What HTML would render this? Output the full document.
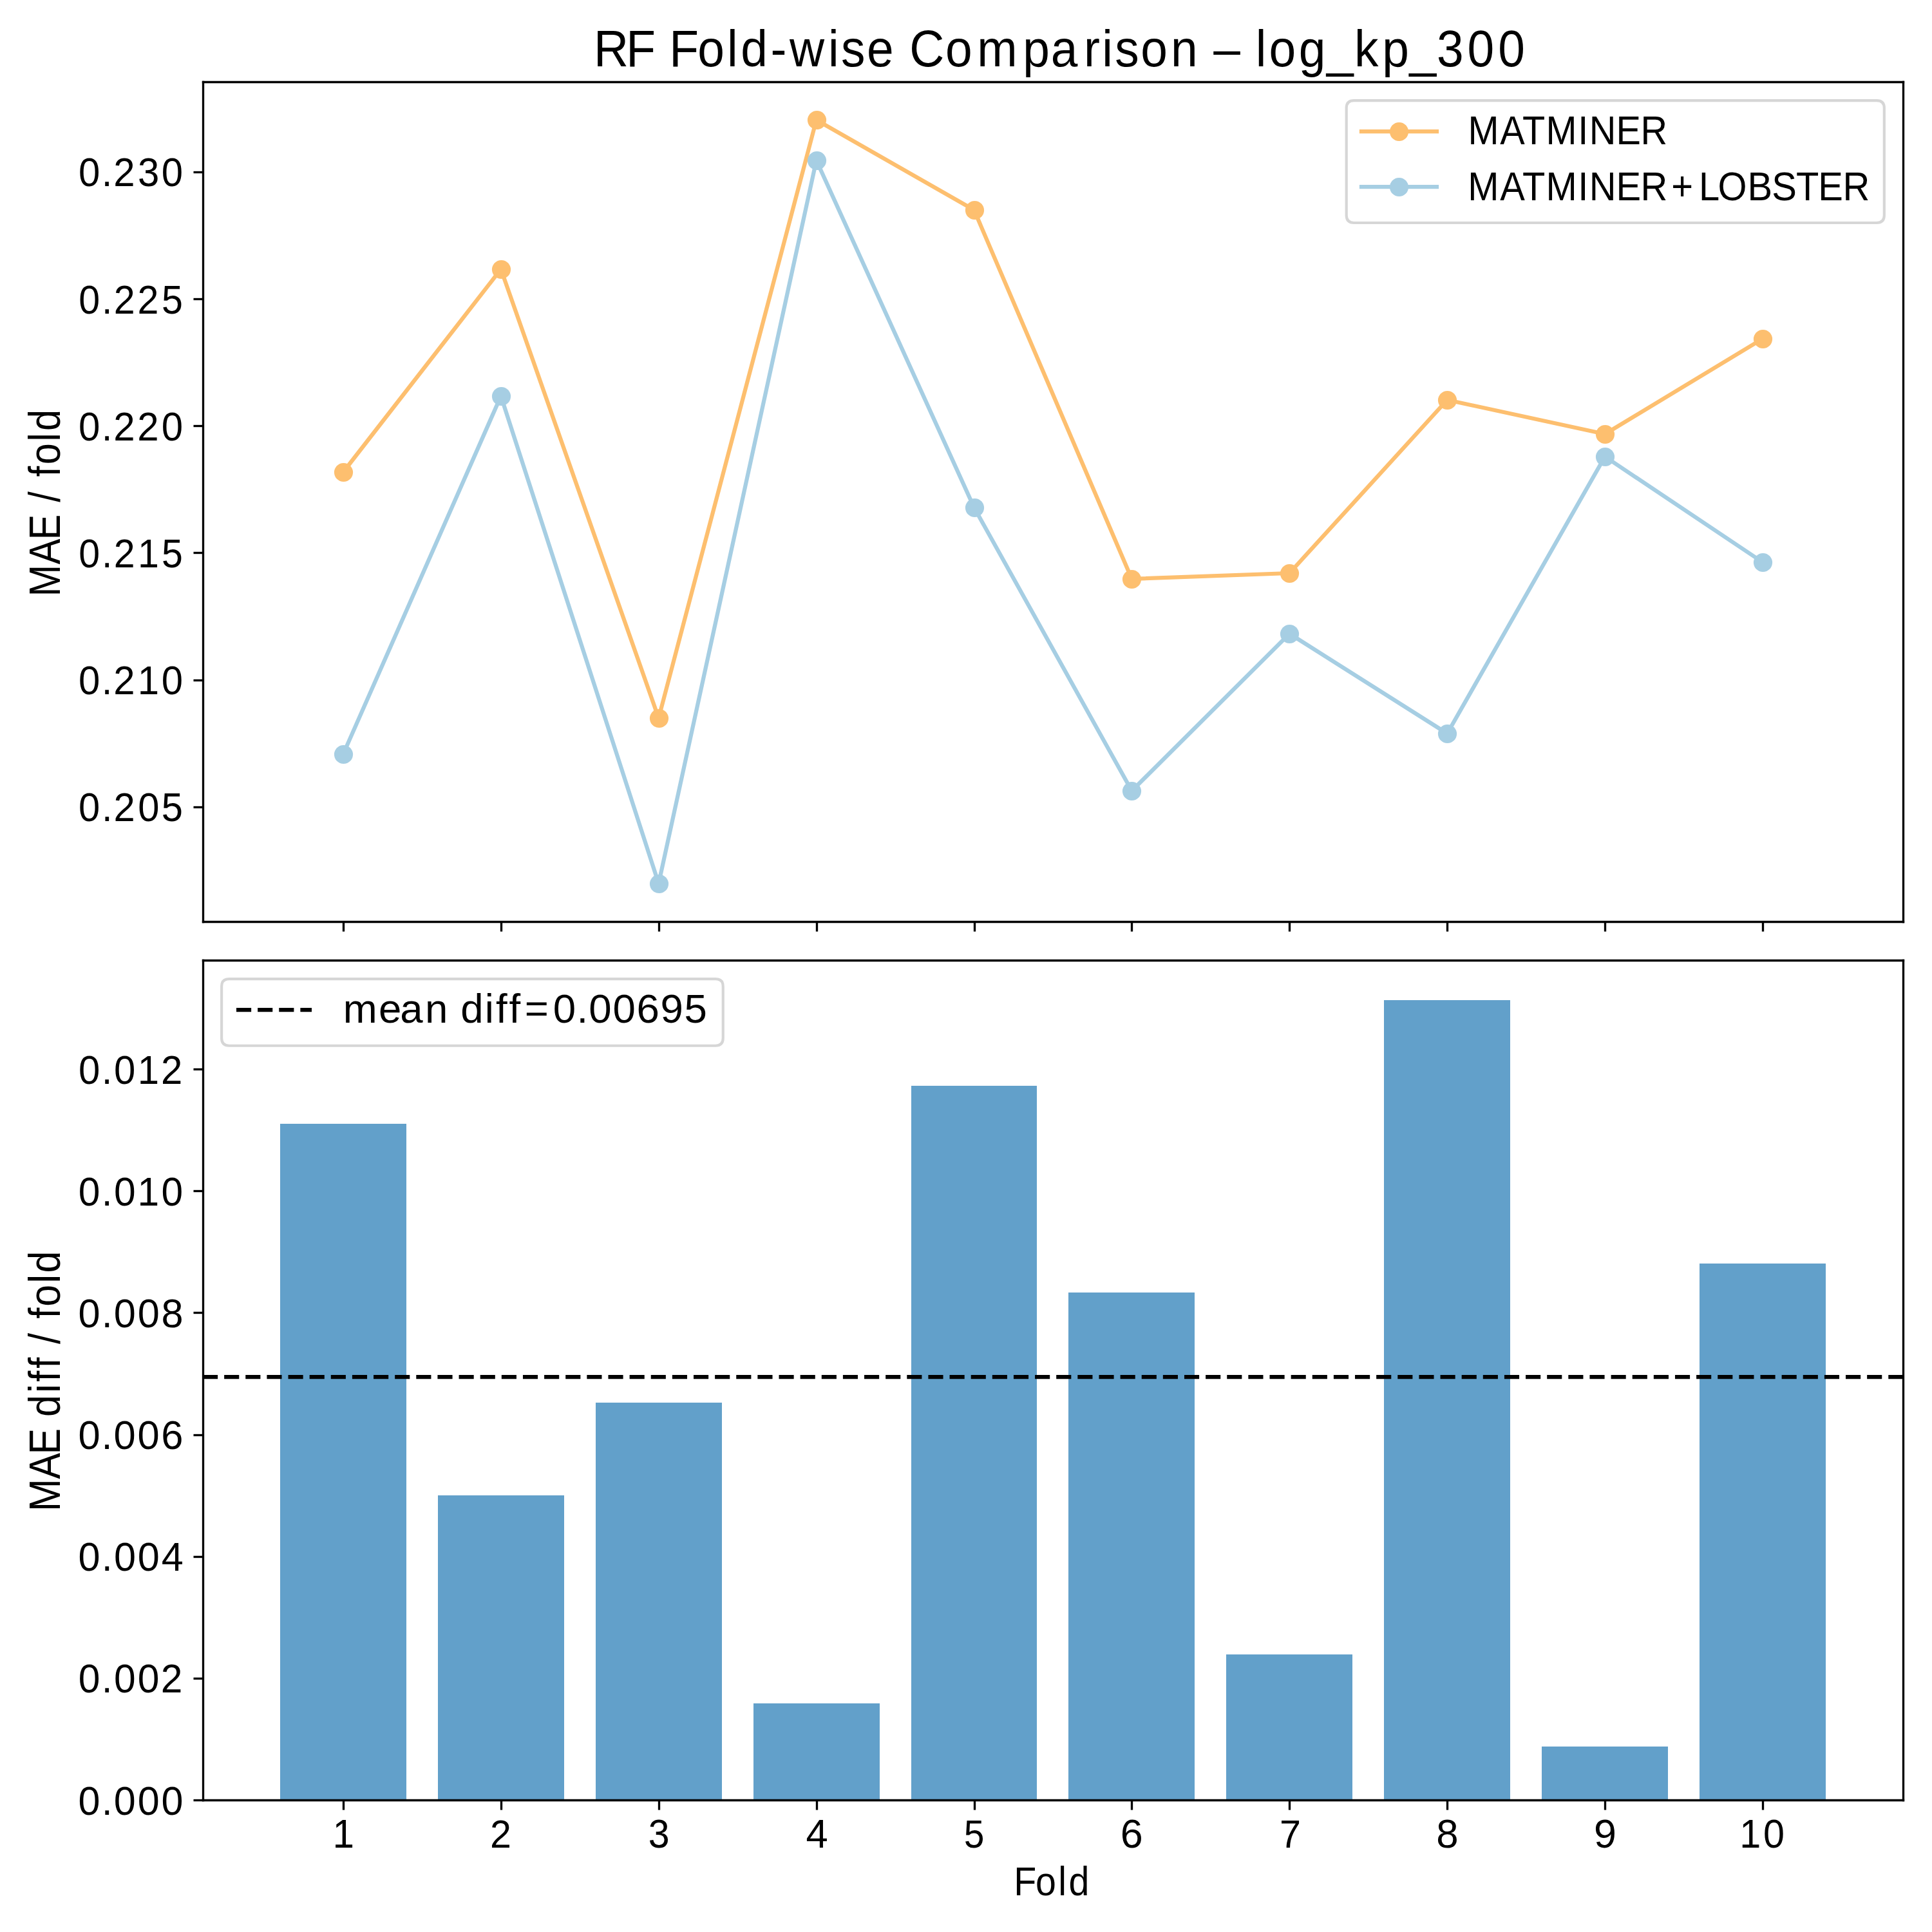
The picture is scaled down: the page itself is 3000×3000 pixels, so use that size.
<!DOCTYPE html>
<html><head><meta charset="utf-8"><title>RF Fold-wise Comparison</title>
<style>html,body{margin:0;padding:0;background:#fff;width:3000px;height:3000px;overflow:hidden}svg{display:block}text{font-family:"Liberation Sans",sans-serif;font-size:60px;font-kerning:none;fill:#000;white-space:pre}</style></head>
<body><svg width="3000" height="3000" viewBox="0 0 3000 3000">
<rect x="0" y="0" width="3000" height="3000" fill="#fff"/>
<rect x="435" y="1745" width="196" height="1050" fill="#1f78b4" fill-opacity="0.7"/>
<rect x="680" y="2322" width="196" height="473" fill="#1f78b4" fill-opacity="0.7"/>
<rect x="925" y="2178" width="196" height="617" fill="#1f78b4" fill-opacity="0.7"/>
<rect x="1170" y="2645" width="196" height="150" fill="#1f78b4" fill-opacity="0.7"/>
<rect x="1415" y="1686" width="195" height="1109" fill="#1f78b4" fill-opacity="0.7"/>
<rect x="1659" y="2007" width="196" height="788" fill="#1f78b4" fill-opacity="0.7"/>
<rect x="1904" y="2569" width="196" height="226" fill="#1f78b4" fill-opacity="0.7"/>
<rect x="2149" y="1553" width="196" height="1242" fill="#1f78b4" fill-opacity="0.7"/>
<rect x="2394" y="2712" width="196" height="83" fill="#1f78b4" fill-opacity="0.7"/>
<rect x="2639" y="1962" width="196" height="833" fill="#1f78b4" fill-opacity="0.7"/>
<polyline points="532.92,733 777.82,418 1022.72,1115 1267.63,186.29 1512.53,326 1757.43,899 2002.33,890 2247.23,621 2492.14,674 2737.04,526" fill="none" stroke="#fdbf6f" stroke-width="6.25" stroke-linejoin="round" stroke-linecap="square"/>
<circle cx="533.5" cy="733.5" r="14.58" fill="#fdbf6f"/>
<circle cx="778.5" cy="418.5" r="14.58" fill="#fdbf6f"/>
<circle cx="1023.5" cy="1115.5" r="14.58" fill="#fdbf6f"/>
<circle cx="1268.5" cy="186.5" r="14.58" fill="#fdbf6f"/>
<circle cx="1513.5" cy="326.5" r="14.58" fill="#fdbf6f"/>
<circle cx="1757.5" cy="899.5" r="14.58" fill="#fdbf6f"/>
<circle cx="2002.5" cy="890.5" r="14.58" fill="#fdbf6f"/>
<circle cx="2247.5" cy="621.5" r="14.58" fill="#fdbf6f"/>
<circle cx="2492.5" cy="674.5" r="14.58" fill="#fdbf6f"/>
<circle cx="2737.5" cy="526.5" r="14.58" fill="#fdbf6f"/>
<polyline points="532.92,1171 777.82,615 1022.72,1372.01 1267.63,249 1512.53,788 1757.43,1228 2002.33,984 2247.23,1139 2492.14,709 2737.04,873" fill="none" stroke="#a6cee3" stroke-width="6.25" stroke-linejoin="round" stroke-linecap="square"/>
<circle cx="533.5" cy="1171.5" r="14.58" fill="#a6cee3"/>
<circle cx="778.5" cy="615.5" r="14.58" fill="#a6cee3"/>
<circle cx="1023.5" cy="1372.5" r="14.58" fill="#a6cee3"/>
<circle cx="1268.5" cy="249.5" r="14.58" fill="#a6cee3"/>
<circle cx="1513.5" cy="788.5" r="14.58" fill="#a6cee3"/>
<circle cx="1757.5" cy="1228.5" r="14.58" fill="#a6cee3"/>
<circle cx="2002.5" cy="984.5" r="14.58" fill="#a6cee3"/>
<circle cx="2247.5" cy="1139.5" r="14.58" fill="#a6cee3"/>
<circle cx="2492.5" cy="709.5" r="14.58" fill="#a6cee3"/>
<circle cx="2737.5" cy="873.5" r="14.58" fill="#a6cee3"/>
<polyline points="315,2138 2955,2138" fill="none" stroke="#000000" stroke-width="6.25" stroke-linejoin="round" stroke-dasharray="23.13,10" stroke-dashoffset="0" stroke-linecap="butt"/>
<line x1="315.5" y1="1431.5" x2="315.5" y2="127.5" stroke="#000" stroke-width="3.33" stroke-linecap="square"/>
<line x1="2955.5" y1="1431.5" x2="2955.5" y2="127.5" stroke="#000" stroke-width="3.33" stroke-linecap="square"/>
<line x1="315.5" y1="127.5" x2="2955.5" y2="127.5" stroke="#000" stroke-width="3.33" stroke-linecap="square"/>
<line x1="315.5" y1="1431.5" x2="2955.5" y2="1431.5" stroke="#000" stroke-width="3.33" stroke-linecap="square"/>
<line x1="533.5" y1="1431.5" x2="533.5" y2="1446.5" stroke="#000" stroke-width="3.33"/>
<line x1="778.5" y1="1431.5" x2="778.5" y2="1446.5" stroke="#000" stroke-width="3.33"/>
<line x1="1023.5" y1="1431.5" x2="1023.5" y2="1446.5" stroke="#000" stroke-width="3.33"/>
<line x1="1268.5" y1="1431.5" x2="1268.5" y2="1446.5" stroke="#000" stroke-width="3.33"/>
<line x1="1513.5" y1="1431.5" x2="1513.5" y2="1446.5" stroke="#000" stroke-width="3.33"/>
<line x1="1757.5" y1="1431.5" x2="1757.5" y2="1446.5" stroke="#000" stroke-width="3.33"/>
<line x1="2002.5" y1="1431.5" x2="2002.5" y2="1446.5" stroke="#000" stroke-width="3.33"/>
<line x1="2247.5" y1="1431.5" x2="2247.5" y2="1446.5" stroke="#000" stroke-width="3.33"/>
<line x1="2492.5" y1="1431.5" x2="2492.5" y2="1446.5" stroke="#000" stroke-width="3.33"/>
<line x1="2737.5" y1="1431.5" x2="2737.5" y2="1446.5" stroke="#000" stroke-width="3.33"/>
<line x1="315.5" y1="1253.5" x2="300.5" y2="1253.5" stroke="#000" stroke-width="3.33"/>
<line x1="315.5" y1="1056.5" x2="300.5" y2="1056.5" stroke="#000" stroke-width="3.33"/>
<line x1="315.5" y1="858.5" x2="300.5" y2="858.5" stroke="#000" stroke-width="3.33"/>
<line x1="315.5" y1="661.5" x2="300.5" y2="661.5" stroke="#000" stroke-width="3.33"/>
<line x1="315.5" y1="464.5" x2="300.5" y2="464.5" stroke="#000" stroke-width="3.33"/>
<line x1="315.5" y1="267.5" x2="300.5" y2="267.5" stroke="#000" stroke-width="3.33"/>
<line x1="315.5" y1="2795.5" x2="315.5" y2="1491.5" stroke="#000" stroke-width="3.33" stroke-linecap="square"/>
<line x1="2955.5" y1="2795.5" x2="2955.5" y2="1491.5" stroke="#000" stroke-width="3.33" stroke-linecap="square"/>
<line x1="315.5" y1="1491.5" x2="2955.5" y2="1491.5" stroke="#000" stroke-width="3.33" stroke-linecap="square"/>
<line x1="315.5" y1="2795.5" x2="2955.5" y2="2795.5" stroke="#000" stroke-width="3.33" stroke-linecap="square"/>
<line x1="533.5" y1="2795.5" x2="533.5" y2="2810.5" stroke="#000" stroke-width="3.33"/>
<line x1="778.5" y1="2795.5" x2="778.5" y2="2810.5" stroke="#000" stroke-width="3.33"/>
<line x1="1023.5" y1="2795.5" x2="1023.5" y2="2810.5" stroke="#000" stroke-width="3.33"/>
<line x1="1268.5" y1="2795.5" x2="1268.5" y2="2810.5" stroke="#000" stroke-width="3.33"/>
<line x1="1513.5" y1="2795.5" x2="1513.5" y2="2810.5" stroke="#000" stroke-width="3.33"/>
<line x1="1757.5" y1="2795.5" x2="1757.5" y2="2810.5" stroke="#000" stroke-width="3.33"/>
<line x1="2002.5" y1="2795.5" x2="2002.5" y2="2810.5" stroke="#000" stroke-width="3.33"/>
<line x1="2247.5" y1="2795.5" x2="2247.5" y2="2810.5" stroke="#000" stroke-width="3.33"/>
<line x1="2492.5" y1="2795.5" x2="2492.5" y2="2810.5" stroke="#000" stroke-width="3.33"/>
<line x1="2737.5" y1="2795.5" x2="2737.5" y2="2810.5" stroke="#000" stroke-width="3.33"/>
<line x1="315.5" y1="2795.5" x2="300.5" y2="2795.5" stroke="#000" stroke-width="3.33"/>
<line x1="315.5" y1="2606.5" x2="300.5" y2="2606.5" stroke="#000" stroke-width="3.33"/>
<line x1="315.5" y1="2417.5" x2="300.5" y2="2417.5" stroke="#000" stroke-width="3.33"/>
<line x1="315.5" y1="2228.5" x2="300.5" y2="2228.5" stroke="#000" stroke-width="3.33"/>
<line x1="315.5" y1="2038.5" x2="300.5" y2="2038.5" stroke="#000" stroke-width="3.33"/>
<line x1="315.5" y1="1849.5" x2="300.5" y2="1849.5" stroke="#000" stroke-width="3.33"/>
<line x1="315.5" y1="1660.5" x2="300.5" y2="1660.5" stroke="#000" stroke-width="3.33"/>
<path d="M2102.38 346L2914.17 346Q2925.83 346 2925.83 334.33L2925.83 167.83Q2925.83 156.17 2914.17 156.17L2102.38 156.17Q2090.71 156.17 2090.71 167.83L2090.71 334.33Q2090.71 346 2102.38 346Z" fill="#ffffff" fill-opacity="0.8" stroke="#cccccc" stroke-opacity="0.8" stroke-width="4.17"/>
<polyline points="2114,204 2172,204 2231,204" fill="none" stroke="#fdbf6f" stroke-width="6.25" stroke-linejoin="round" stroke-linecap="square"/>
<circle cx="2172.5" cy="204.5" r="14.58" fill="#fdbf6f"/>
<polyline points="2114,290 2172,290 2231,290" fill="none" stroke="#a6cee3" stroke-width="6.25" stroke-linejoin="round" stroke-linecap="square"/>
<circle cx="2172.5" cy="290.5" r="14.58" fill="#a6cee3"/>
<path d="M355.79 1623.71L1111.08 1623.71Q1122.75 1623.71 1122.75 1612.04L1122.75 1531.71Q1122.75 1520.04 1111.08 1520.04L355.79 1520.04Q344.12 1520.04 344.12 1531.71L344.12 1612.04Q344.12 1623.71 355.79 1623.71Z" fill="#ffffff" fill-opacity="0.8" stroke="#cccccc" stroke-opacity="0.8" stroke-width="4.17"/>
<polyline points="367,1568 426,1568 484,1568" fill="none" stroke="#000000" stroke-width="6.25" stroke-linejoin="round" stroke-dasharray="23.13,10" stroke-dashoffset="0" stroke-linecap="butt"/>
<g>
<text transform="matrix(1.24809,0,0,1.34102,929,103.3)" x="-5.68 34.73 71.6 88.38 123.6 160.32 177.31 214.31 238 285.97 302.01 334.16 370.41 387.28 431.94 471.41 528.29 563.15 604.03 626.84 642.88 674.82 712.35 749.14 765.37 798.27 817.83 834.55 871.57 906.17 940.72 975.33 1009.12 1043.18 1081.33 1119.54">RF Fold-wise Comparison – log_kp_300</text>
<text transform="matrix(0,-0.98949,1.13475,0,93.34,921)" x="-5.35 45.16 83.76 123.56 142.85 162.13 182.63 201.91 238.11 254.59">MAE / fold</text>
<text transform="matrix(0,-1.01554,1.13475,0,93.34,2341)" x="-5.84 43.53 81.13 120.27 138.92 175.52 192.64 212.86 231.36 250.16 268.96 288.93 307.53 343.08 358.91">MAE diff / fold</text>
<text transform="matrix(0.95668,0,0,1.04397,1581,2943.39)" x="-6.97 28.32 65.11 82.17">Fold</text>
<text transform="matrix(0.99549,0,0,1.03577,124,1275.39)" x="-2.02 34.08 52.75 90.55 127.36">0.205</text>
<text transform="matrix(0.99818,0,0,1.03577,124,1078.39)" x="-2.08 33.91 52.47 89.82 127">0.210</text>
<text transform="matrix(0.98443,0,0,1.03577,124,881.39)" x="-1.85 34.56 53.53 91.47 128.98">0.215</text>
<text transform="matrix(0.99962,0,0,1.03577,124,684.39)" x="-2.1 33.85 52.37 89.2 126.79">0.220</text>
<text transform="matrix(0.98625,0,0,1.03577,124,487.39)" x="-1.88 34.48 53.4 90.78 128.71">0.225</text>
<text transform="matrix(0.99835,0,0,1.03577,124,289.39)" x="-2.08 33.9 52.46 90.17 126.97">0.230</text>
<text transform="matrix(1.00506,0,0,1.04168,521,2869)" x="-4.57">1</text>
<text transform="matrix(0.98778,0,0,1.02639,764,2869)" x="-3.02">2</text>
<text transform="matrix(0.98428,0,0,1.03577,1009,2869.39)" x="-2.29">3</text>
<text transform="matrix(1.02532,0,0,1.04168,1253,2869)" x="-1.38">4</text>
<text transform="matrix(0.94912,0,0,1.02711,1499,2869.4)" x="-2.4">5</text>
<text transform="matrix(1.04748,0,0,1.03577,1743,2869.39)" x="-3.05">6</text>
<text transform="matrix(0.9899,0,0,1.01746,1990,2869)" x="-3.08">7</text>
<text transform="matrix(1.03004,0,0,1.03577,2233,2869.39)" x="-2.61">8</text>
<text transform="matrix(1.04637,0,0,1.03577,2478,2869.39)" x="-2.81">9</text>
<text transform="matrix(0.98938,0,0,1.03577,2706,2869.39)" x="-4.9 32.36">10</text>
<text transform="matrix(1.0169,0,0,1.03577,124,2818.39)" x="-2.35 33.13 51.94 88.15 124.35">0.000</text>
<text transform="matrix(1.00814,0,0,1.03577,124,2628.39)" x="-2.23 33.48 52.52 89.03 124.78">0.002</text>
<text transform="matrix(1.01953,0,0,1.03577,124,2439.39)" x="-2.35 33.13 51.94 88.15 124.34">0.004</text>
<text transform="matrix(1.02397,0,0,1.03577,124,2250.39)" x="-2.46 32.8 51.39 87.3 123.21">0.006</text>
<text transform="matrix(1.02028,0,0,1.03577,124,2061.39)" x="-2.38 33.03 51.77 87.88 123.99">0.008</text>
<text transform="matrix(1.00727,0,0,1.03577,124,1872.39)" x="-2.21 33.53 52.6 88.85 125.7">0.010</text>
<text transform="matrix(0.99786,0,0,1.03577,124,1683.39)" x="-2.08 33.91 53.23 89.82 126.23">0.012</text>
<text transform="matrix(0.96019,0,0,1.04168,2284,224)" x="-4.76 47.1 83.38 121.4 173.15 191.44 234.82 274.56">MATMINER</text>
<text transform="matrix(0.96544,0,0,1.03577,2284,311.39)" x="-4.86 46.76 82.87 120.67 172.24 190.37 233.53 273.07 322.46 366.71 397.15 444.85 484.03 522.99 558.64 598.18">MATMINER+LOBSTER</text>
<text transform="matrix(1.05993,0,0,1.04397,536,1588.39)" x="-3.04 48.97 80.53 117.07 151.49 169.05 204.52 220.84 240.22 263.11 304.48 339.07 356.99 392.01 427.02 461.87 496.85">mean diff=0.00695</text>
</g>
</svg></body></html>
